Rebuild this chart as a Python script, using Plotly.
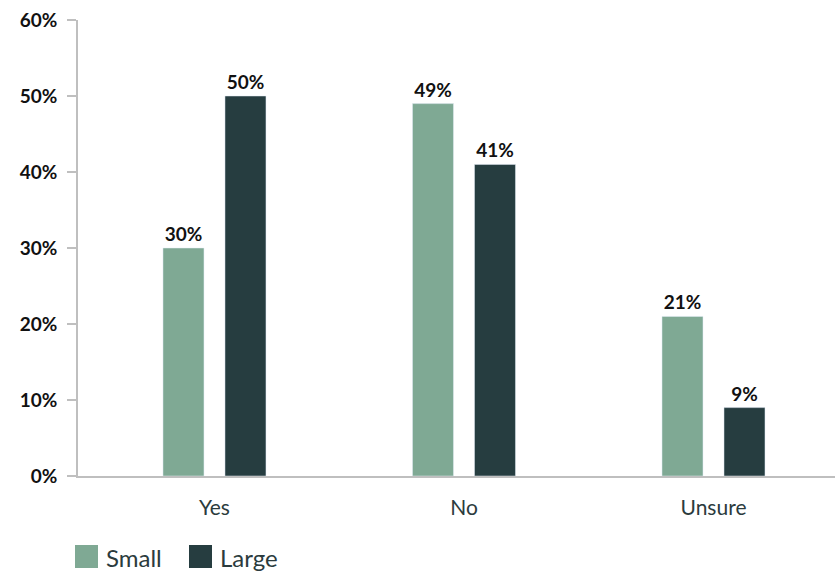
import plotly.graph_objects as go

categories = ["Yes", "No", "Unsure"]
small_vals = [30, 49, 21]
large_vals = [50, 41, 9]
series_names = ["Small", "Large"]
series_colors = ["#7FA994", "#263D40"]
y_ticks = [0, 10, 20, 30, 40, 50, 60]
y_tick_labels = [f"{v}%" for v in y_ticks]

W, H = 835, 572
L, R, T, B = 78, 0, 20, 96

bar_w = 0.1643
offsets = [-0.2064, 0.0421]

fig = go.Figure()
for name, vals, col, off in zip(series_names, [small_vals, large_vals], series_colors, offsets):
    fig.add_trace(go.Bar(
        x=categories, y=vals, name=name, marker_color=col,
        width=bar_w, offset=off,
        text=[f"{v}%" for v in vals], textposition="outside",
        textfont=dict(family="Lato", size=19, color="#111111", weight="bold"),
        cliponaxis=False, showlegend=False,
    ))

fig.update_layout(
    width=W, height=H,
    margin=dict(l=L, r=R, t=T, b=B),
    paper_bgcolor="white", plot_bgcolor="white",
    barmode="overlay",
    font=dict(family="Lato"),
)
fig.update_xaxes(
    range=[-0.547, 2.487], showline=True, linecolor="#BFBFBF", linewidth=1.5,
    ticks="", showgrid=False, ticklabelstandoff=12,
    tickfont=dict(family="Lato", size=21, color="#2B3B3D"),
)
fig.update_yaxes(
    range=[0, 60], tickvals=y_ticks, ticktext=y_tick_labels,
    showline=True, linecolor="#BFBFBF", linewidth=1.5,
    ticks="outside", ticklen=9, tickcolor="#BFBFBF", tickwidth=1.5,
    showgrid=False, zeroline=False, ticklabelstandoff=6,
    tickfont=dict(family="Lato", size=19, color="#111111", weight="bold"),
)

# legend drawn in paper coordinates
pw, ph = W - L - R, H - T - B
def px_x(p):
    return (p - L) / pw
def px_y(p):
    return (H - B - p) / ph

leg_x = [75, 189]
for name, col, x0 in zip(series_names, series_colors, leg_x):
    fig.add_shape(type="rect", xref="paper", yref="paper",
                  x0=px_x(x0), x1=px_x(x0 + 23), y0=px_y(568), y1=px_y(545),
                  fillcolor=col, line_width=0)
    fig.add_annotation(xref="paper", yref="paper", x=px_x(x0 + 29), y=px_y(557),
                       text=name, showarrow=False, xanchor="left", yanchor="middle",
                       font=dict(family="Lato", size=24, color="#2B3B3D"))

fig.write_html("out.html")
